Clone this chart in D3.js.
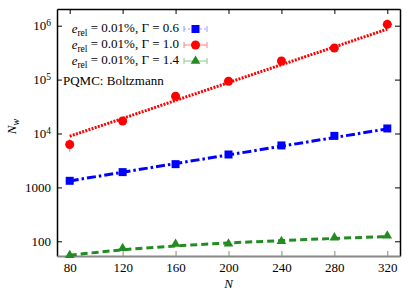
<!DOCTYPE html>
<meta charset='utf-8'>
<body style='margin:0; background:#fff'>
<div id='chart'></div>
<script src='https://d3js.org/d3.v7.min.js'></script>
<script>
    // data
    const nValues = [80, 120, 160, 200, 240, 280, 320];
    const xTicks = [80, 120, 160, 200, 240, 280, 320];
    const yTicks = [100, 1000, 1e4, 1e5, 1e6];

    const gamma06 = [1325, 1920, 2700, 4080, 6000, 9030, 12400];
    const gamma06Err = [60, 80, 100, 150, 250, 450, 500];
    const gamma06Fit = [1318, 1910, 2770, 4010, 5810, 8410, 12190];

    const gamma10 = [6250, 17100, 49000, 93000, 221000, 385000, 1060000];
    const gamma10Err = [1700, 800, 2000, 3000, 6000, 10000, 30000];
    const gamma10Fit = [8900, 19000, 41000, 88000, 189000, 404000, 865000];

    const gamma14 = [55, 74, 89, 90, 100, 117, 127];
    const gamma14Err = [1, 1, 2, 2, 2, 2, 2];
    const gamma14Fit = [55, 69.5, 82, 93, 103, 113, 122];

    const seriesLabels = ['0.6', '1.0', '1.4'];

    const FONT = "'Liberation Serif', 'Times New Roman', serif";
    const FS = 13;

    const W = 415, H = 291;
    const margin = { top: 9, left: 57, right: 15, bottom: 35 };
    const width = W - margin.left - margin.right,
        height = H - margin.top - margin.bottom;

    const series = [
        { label: seriesLabels[0], vals: gamma06, err: gamma06Err, fit: gamma06Fit, color: '#0000ff', light: '#9f9fff', marker: 'square', dash: '9,3,2.5,3', lw: 3 },
        { label: seriesLabels[1], vals: gamma10, err: gamma10Err, fit: gamma10Fit, color: '#ff0000', light: '#ff8080', marker: 'circle', dash: '2,1.3', lw: 3 },
        { label: seriesLabels[2], vals: gamma14, err: gamma14Err, fit: gamma14Fit, color: '#228b22', light: '#88c888', marker: 'triangle', dash: '7,4', lw: 3 },
    ];

    const x = d3.scaleLinear().domain([70.4, 329.6]).range([0, width]);
    const y = d3.scaleLog().domain([Math.pow(10, 1.727), Math.pow(10, 6.31)]).range([height, 0]);

    const svg = d3.select('#chart').append('svg')
        .attr('width', W).attr('height', H)
        .style('font-family', FONT)
        .append('g')
        .attr('transform', `translate(${margin.left},${margin.top})`);

    const serif = ( sel, size ) => sel.style( 'font-family', FONT ).style( 'font-size', ( size || FS ) + 'px' ).attr( 'fill', '#000' );

    const supFmt = ( sel ) => {
        sel.each( function( d ) {
            const t = d3.select( this ).text( null );
            if ( d < 1e4 ) {
                t.text( d3.format( 'd' )( d ) );
            } else {
                t.append( 'tspan' ).text( '10' );
                t.append( 'tspan' ).attr( 'dy', '-0.45em' ).style( 'font-size', '9.5px' ).text( Math.round( Math.log10( d ) ) );
            }
        } );
    };

    // axes
    const yAxisEl = svg.append('g')
        .call(d3.axisLeft(y).tickValues(yTicks).tickSizeInner(-5).tickSizeOuter(0).tickPadding(6));
    yAxisEl.selectAll('.tick text').call(serif).call(supFmt);

    svg.append('g')
        .attr('transform', `translate(${width},0)`)
        .call(d3.axisRight(y).tickValues(yTicks).tickSizeInner(-5).tickSizeOuter(0).tickFormat(''));

    svg.append('g')
        .call(d3.axisTop(x).tickValues(xTicks).tickSizeInner(-5).tickSizeOuter(0).tickFormat(''));

    const xAxisEl = svg.append('g')
        .attr('transform', `translate(0,${height})`)
        .call(d3.axisBottom(x).tickValues(xTicks).tickSizeInner(-5).tickSizeOuter(0).tickPadding(7));
    xAxisEl.selectAll('.tick text').call(serif);

    svg.selectAll('.domain').attr('stroke', '#000').attr('stroke-width', 1.5);
    svg.selectAll('.tick line').attr('stroke', '#000');
    xAxisEl.select('.domain').attr('stroke', '#888').attr('stroke-width', 2);
    xAxisEl.selectAll('.tick line').attr('stroke', '#888');

    // axis labels
    svg.append('text')
        .call(serif)
        .attr('x', x(200)).attr('y', height + 32)
        .attr('text-anchor', 'middle')
        .style('font-style', 'italic')
        .text('N');

    const yl = svg.append('text')
        .call(serif)
        .attr('transform', `translate(${-margin.left + 16},${height / 2 - 6}) rotate(-90)`)
        .attr('text-anchor', 'middle');
    yl.append('tspan').style('font-style', 'italic').text('N');
    yl.append('tspan').attr('dy', '0.3em').style('font-style', 'italic').style('font-size', '10px').text('w');

    const markerPath = ( type ) => {
        if ( type === 'square' ) return d3.symbol( d3.symbolSquare, 64 )();
        if ( type === 'circle' ) return d3.symbol( d3.symbolCircle, 64 )();
        return d3.symbol( d3.symbolTriangle, 40 )();
    };

    const line = d3.line()
        .x((d, i) => x(nValues[i]))
        .y(d => y(d));

    const plot = svg.append('g');

    series.forEach( s => {
        plot.append('path')
            .datum(s.fit)
            .attr('fill', 'none')
            .attr('stroke', s.color)
            .attr('stroke-width', s.lw)
            .attr('stroke-dasharray', s.dash)
            .attr('d', s.marker === 'triangle' ? line.curve(d3.curveMonotoneX) : line.curve(d3.curveLinear));

        const g = plot.selectAll(null)
            .data(s.vals)
            .enter().append('g');

        g.append('line')
            .attr('x1', (d, i) => x(nValues[i])).attr('x2', (d, i) => x(nValues[i]))
            .attr('y1', (d, i) => y(d - s.err[i])).attr('y2', (d, i) => y(d + s.err[i]))
            .attr('stroke', s.light).attr('stroke-width', 1);
        g.append('path')
            .attr('d', markerPath(s.marker))
            .attr('transform', (d, i) => `translate(${x(nValues[i])},${y(d)})`)
            .attr('fill', s.color);
    } );

    // legend
    const legend = svg.append('g');
    series.forEach( ( s, i ) => {
        const ly = 20 + i * 16;
        const t = legend.append('text')
            .call(serif)
            .attr('x', 122).attr('y', ly + 4)
            .attr('text-anchor', 'end');
        t.append('tspan').style('font-style', 'italic').text('e');
        t.append('tspan').attr('dy', '0.3em').style('font-size', '9.5px').text('rel');
        t.append('tspan').attr('dy', '-0.3em').text(` = 0.01%, \u0393 = ${s.label}`);

        legend.append('line')
            .attr('x1', 127).attr('x2', 150).attr('y1', ly).attr('y2', ly)
            .attr('stroke', s.light).attr('stroke-width', 1)
            .attr('stroke-dasharray', i === 0 ? '2,2' : null);
        [127, 150].forEach( cx => {
            legend.append('line')
                .attr('x1', cx).attr('x2', cx).attr('y1', ly - 3).attr('y2', ly + 3)
                .attr('stroke', s.light).attr('stroke-width', 1);
        } );
        legend.append('path')
            .attr('d', markerPath(s.marker))
            .attr('transform', `translate(138.5,${ly})`)
            .attr('fill', s.color);
    } );

    legend.append('text')
        .call(serif)
        .attr('x', 6).attr('y', 76)
        .text('PQMC: Boltzmann');
</script>
</body>
